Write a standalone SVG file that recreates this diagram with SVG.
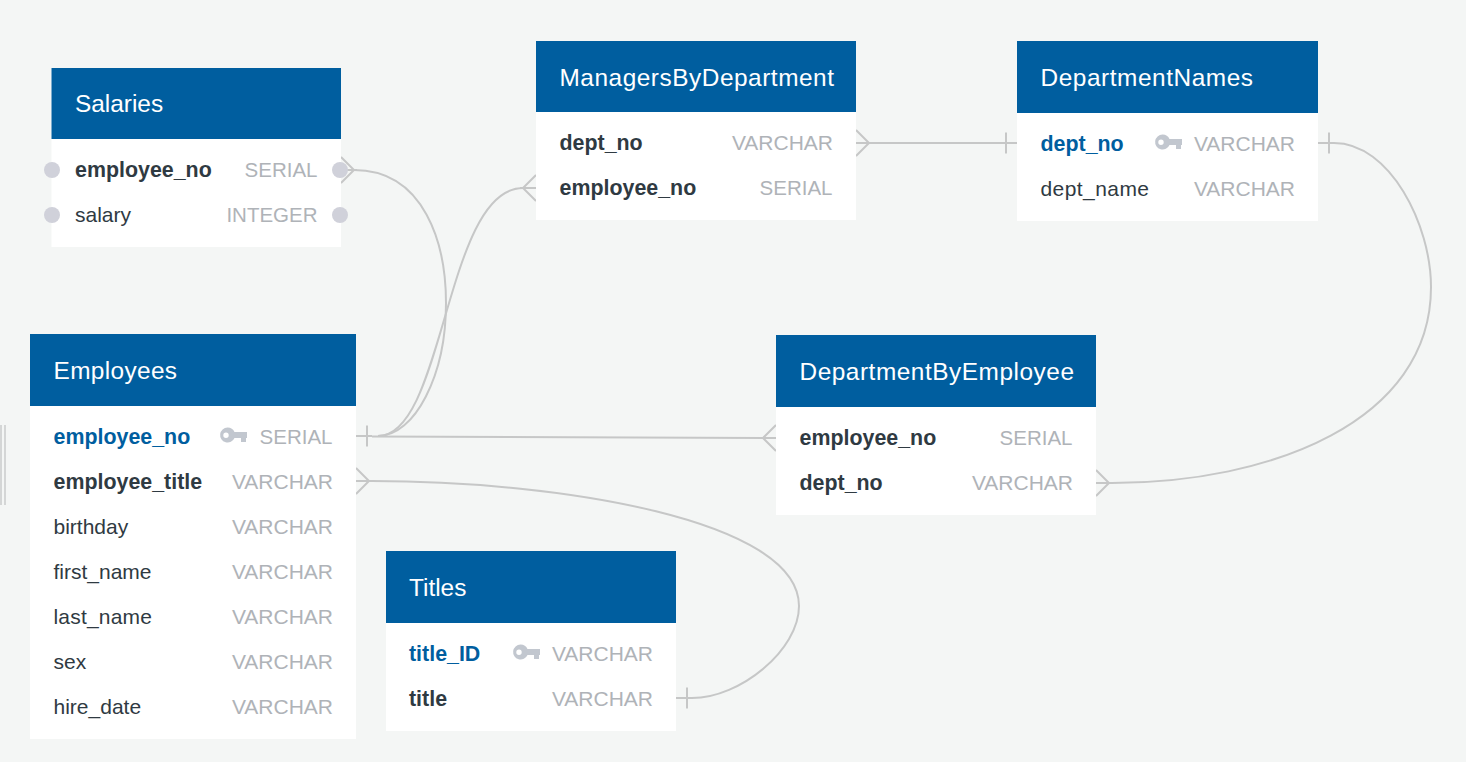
<svg xmlns="http://www.w3.org/2000/svg" width="1466" height="762" viewBox="0 0 1466 762">
<style>
text{font-family:"Liberation Sans",Arial,sans-serif}
.bd{fill:#fff}.hd{fill:#005e9f}
.t{fill:#fff;font-size:24.4px}
.n{fill:#2f3a42;font-size:21px}
.b{font-weight:700;font-size:21.4px}
.k{fill:#005e9f;font-weight:700;font-size:21.4px}
.y{fill:#afb3b8;font-size:21px;text-anchor:end}
.s{font-size:20.5px}
.c{fill:none;stroke:#c6c7c7;stroke-width:2}
.d{fill:#d0d1da}
.key{fill:#c2c7cf}
</style>
<defs>
<g id="key"><path fill-rule="evenodd" d="M7.500 -7.500A7.500 7.500 0 0 1 14.500 -3H27V3H26V7H21V3H14.500A7.500 7.500 0 1 1 7.500 -7.500ZM6 -2.500A2.700 2.700 0 1 0 6 2.900A2.700 2.700 0 1 0 6 -2.500Z" class="key"/></g>
<path id="many" class="c" d="M0 -13L13 0L0 13M0 0H16"/>
<path id="one" class="c" d="M0 0H16M11 -10.500V10.500"/>
</defs>
<rect width="1466" height="762" fill="#f4f6f5"/>
<path d="M1 425V505M5 425V505" fill="none" stroke="#d4d6d6" stroke-width="2"/>
<g id="connectors">
<path class="c" d="M354 170C425 170 446 245 446 303C446 375 415 436 378 436"/>
<path class="c" d="M378 436C445 436 445 188 523 188"/>
<path class="c" d="M372 436.500L763 438"/>
<path class="c" d="M869 143H1004"/>
<path class="c" d="M1334 143C1390 143 1431 225 1431 287C1431 422 1270 483 1112 483"/>
<path class="c" d="M372 481C560 481 799 520 799 606C799 650 740 698 692 698"/>
<use href="#many" x="341" y="170"/>
<use href="#one" x="356" y="436"/>
<use href="#many" transform="translate(536 188) scale(-1 1)"/>
<use href="#many" x="856" y="143"/>
<use href="#one" transform="translate(1017 143) scale(-1 1)"/>
<use href="#one" x="1318" y="143"/>
<use href="#many" transform="translate(776 438) scale(-1 1)"/>
<use href="#many" x="1096" y="483"/>
<use href="#many" x="356" y="481"/>
<use href="#one" x="676" y="698"/>
</g>
<g id="salaries">
<rect class="bd" x="51.500" y="68" width="289.500" height="179"/><rect class="hd" x="51.500" y="68" width="289.500" height="71"/>
<text class="t" x="75" y="112">Salaries</text>
<text class="n b" x="75" y="177">employee_no</text><text class="y s" x="317.500" y="177">SERIAL</text>
<text class="n" x="75" y="222">salary</text><text class="y s" x="317.500" y="222">INTEGER</text>
<circle class="d" cx="52" cy="170" r="8"/><circle class="d" cx="340" cy="170" r="8"/>
<circle class="d" cx="52" cy="215" r="8"/><circle class="d" cx="340" cy="215" r="8"/>
</g>
<g id="managers">
<rect class="bd" x="536" y="41" width="320" height="179"/><rect class="hd" x="536" y="41" width="320" height="71"/>
<text class="t" x="559.500" y="86" textLength="274.500">ManagersByDepartment</text>
<text class="n b" x="559.500" y="150">dept_no</text><text class="y" x="833" y="150">VARCHAR</text>
<text class="n b" x="559.500" y="195">employee_no</text><text class="y s" x="832.500" y="195">SERIAL</text>
</g>
<g id="deptnames">
<rect class="bd" x="1017" y="41" width="301" height="180"/><rect class="hd" x="1017" y="41" width="301" height="72"/>
<text class="t" x="1040.500" y="86" textLength="212.500">DepartmentNames</text>
<text class="k" x="1040.500" y="151">dept_no</text><use href="#key" x="1155" y="142"/><text class="y" x="1295" y="151">VARCHAR</text>
<text class="n" x="1040.500" y="196" textLength="108.500">dept_name</text><text class="y" x="1295" y="196">VARCHAR</text>
</g>
<g id="employees">
<rect class="bd" x="30" y="334" width="326" height="405"/><rect class="hd" x="30" y="334" width="326" height="72"/>
<text class="t" x="53.500" y="379" textLength="123.500">Employees</text>
<text class="k" x="53.500" y="444">employee_no</text><use href="#key" x="220" y="435"/><text class="y s" x="332.500" y="444">SERIAL</text>
<text class="n b" x="53.500" y="489">employee_title</text><text class="y" x="333" y="489">VARCHAR</text>
<text class="n" x="53.500" y="534">birthday</text><text class="y" x="333" y="534">VARCHAR</text>
<text class="n" x="53.500" y="579">first_name</text><text class="y" x="333" y="579">VARCHAR</text>
<text class="n" x="53.500" y="624" textLength="98.500">last_name</text><text class="y" x="333" y="624">VARCHAR</text>
<text class="n" x="53.500" y="669">sex</text><text class="y" x="333" y="669">VARCHAR</text>
<text class="n" x="53.500" y="714">hire_date</text><text class="y" x="333" y="714">VARCHAR</text>
</g>
<g id="deptbyemp">
<rect class="bd" x="776" y="335" width="320" height="180"/><rect class="hd" x="776" y="335" width="320" height="72"/>
<text class="t" x="799.500" y="380" textLength="274.500">DepartmentByEmployee</text>
<text class="n b" x="799.500" y="445">employee_no</text><text class="y s" x="1072.500" y="445">SERIAL</text>
<text class="n b" x="799.500" y="490">dept_no</text><text class="y" x="1073" y="490">VARCHAR</text>
</g>
<g id="titles">
<rect class="bd" x="386" y="551" width="290" height="180"/><rect class="hd" x="386" y="551" width="290" height="72"/>
<text class="t" x="409" y="596">Titles</text>
<text class="k" x="409" y="661">title_ID</text><use href="#key" x="513" y="652"/><text class="y" x="653" y="661">VARCHAR</text>
<text class="n b" x="409" y="706">title</text><text class="y" x="653" y="706">VARCHAR</text>
</g>
</svg>
